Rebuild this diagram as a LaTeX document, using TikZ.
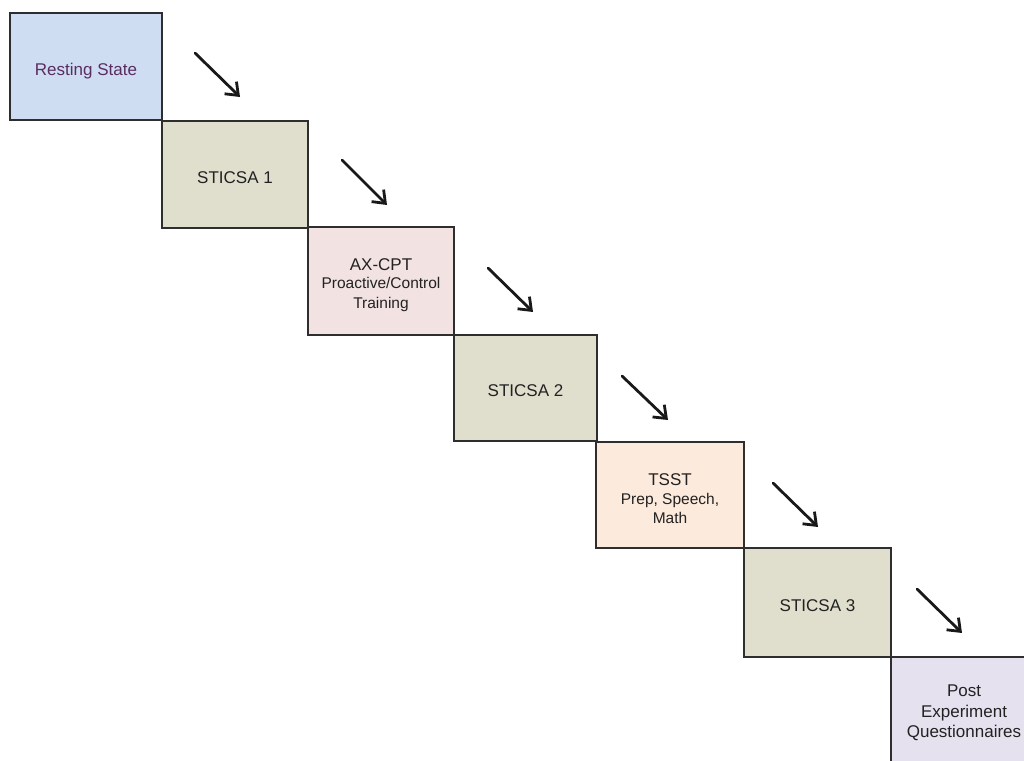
\documentclass[tikz,border=0pt]{standalone}
\usepackage{fontspec}
\setmainfont{Liberation Sans}
\usetikzlibrary{arrows.meta}
\definecolor{restblue}{HTML}{CEDDF2}
\definecolor{restpurple}{HTML}{5A2D60}
\definecolor{sticsa}{HTML}{E0DFCD}
\definecolor{axpink}{HTML}{F2E2E2}
\definecolor{tsstpeach}{HTML}{FCEADC}
\definecolor{postlav}{HTML}{E6E1EF}
\definecolor{edge}{HTML}{2E2E2E}
\definecolor{txt}{HTML}{222222}
\tikzset{
  stagebox/.style={draw=edge, line width=1.6pt, inner sep=0pt},
  stagetext/.style={inner sep=0pt, align=center, text=txt,
    font=\fontsize{17}{19.5}\selectfont},
  flowarrow/.style={line width=2.8pt, black!90, line cap=round,
    -{Straight Barb[length=11pt,width=17pt,line width=2.8pt]}},
}
\newcommand{\subtxt}[1]{{\fontsize{15.5}{19.5}\selectfont #1}}
\begin{document}
\begin{tikzpicture}[x=1pt,y=-1pt]
\useasboundingbox (0,0) rectangle (1024,760);
\clip (0,0) rectangle (1024,760);
\node[stagebox, fill=restblue, minimum width=152pt, minimum height=107pt] (rest) at (86,66.5) {};
\node[stagebox, fill=sticsa, minimum width=146pt, minimum height=107pt] (s1) at (235,174.5) {};
\node[stagebox, fill=axpink, minimum width=146pt, minimum height=108pt] (ax) at (381,281) {};
\node[stagebox, fill=sticsa, minimum width=143pt, minimum height=106pt] (s2) at (525.5,388) {};
\node[stagebox, fill=tsstpeach, minimum width=148pt, minimum height=106pt] (tsst) at (670,495) {};
\node[stagebox, fill=sticsa, minimum width=147pt, minimum height=109pt] (s3) at (817.5,602.5) {};
\node[stagebox, fill=postlav, minimum width=146pt, minimum height=107pt] (post) at (964,710.5) {};

\node[stagetext, text=restpurple] (rest-t) at ([yshift=-4.5pt]rest.center) {Resting State};
\node[stagetext] (s1-t) at ([yshift=-3pt]s1.center) {STICSA 1};
\node[stagetext] (ax-t) at ([yshift=-4pt]ax.center) {AX-CPT\\[-1pt]\subtxt{Proactive/Control}\\\subtxt{Training}};
\node[stagetext] (s2-t) at ([yshift=-3pt]s2.center) {STICSA 2};
\node[stagetext] (tsst-t) at ([yshift=-4pt]tsst.center) {TSST\\[-1pt]\subtxt{Prep, Speech,}\\\subtxt{Math}};
\node[stagetext] (s3-t) at ([yshift=-3pt]s3.center) {STICSA 3};
\node[stagetext, font=\fontsize{17}{20.5}\selectfont] (post-t) at ([yshift=-2.5pt]post.center) {Post\\Experiment\\Questionnaires};

\coordinate (a1s) at (195,53);  \coordinate (a1e) at (240,97);
\coordinate (a2s) at (342,160); \coordinate (a2e) at (387,205);
\coordinate (a3s) at (488,268); \coordinate (a3e) at (533,312);
\coordinate (a4s) at (622,376); \coordinate (a4e) at (668,420);
\coordinate (a5s) at (773,483); \coordinate (a5e) at (818,527);
\coordinate (a6s) at (917,589); \coordinate (a6e) at (962,633);
\foreach \i in {1,...,6} { \draw[flowarrow] (a\i s) -- (a\i e); }
\end{tikzpicture}
\end{document}
